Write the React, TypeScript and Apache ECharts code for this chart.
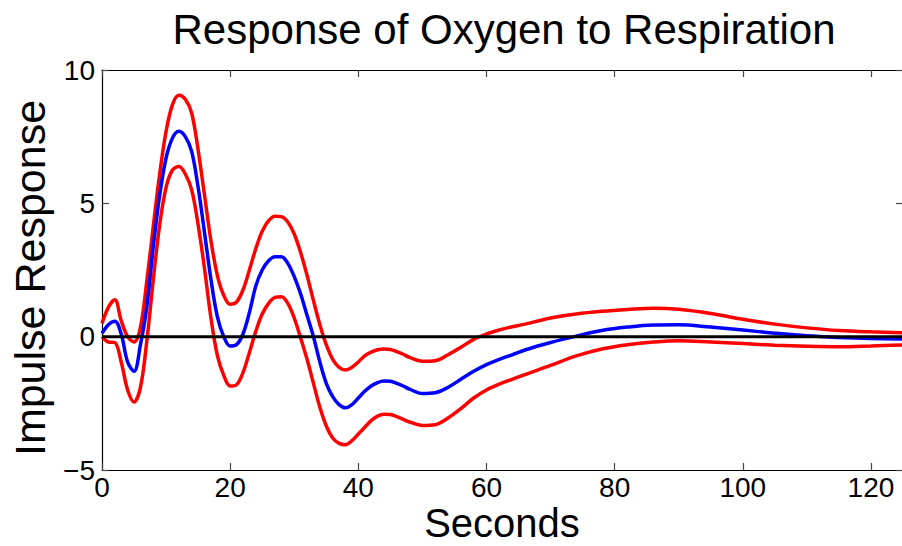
import React, { useEffect, useRef } from "react";
import * as echarts from "echarts";

const titleText = "Response of Oxygen to Respiration";
const xName = "Seconds";
const yName = "Impulse Response";

const seconds = [0,1,2,3,4,5,6,7,8,9,10,11,12,13,14,15,16,17,18,19,20,21,22,23,24,25,26,27,28,29,30,31,32,33,34,35,36,37,38,39,40,41,42,43,44,45,46,47,48,50,52,54,56,58,60,62,64,66,70,74,78,82,86,90,95,100,105,110,115,120,125];

const estimate = [0.12,0.45,0.58,0.1,-0.95,-1.3,-0.3,1.13,3.38,5.3,6.7,7.45,7.7,7.5,6.94,5.6,3.9,2.15,0.75,0.0,-0.35,-0.3,0.1,0.9,1.9,2.5,2.85,3.0,3.0,2.75,2.25,1.6,0.8,0.0,-0.95,-1.75,-2.25,-2.55,-2.67,-2.55,-2.3,-2.05,-1.85,-1.72,-1.66,-1.67,-1.75,-1.85,-1.97,-2.13,-2.1,-1.9,-1.6,-1.3,-1.05,-0.85,-0.68,-0.5,-0.22,0.02,0.23,0.36,0.44,0.45,0.36,0.25,0.13,0.03,-0.03,-0.07,-0.09];

const upper = [0.5,1.1,1.38,0.6,0.0,-0.2,0.35,2.1,4.13,6.1,7.7,8.7,9.05,8.9,8.38,7.0,5.3,3.6,2.3,1.55,1.22,1.3,1.75,2.5,3.3,3.95,4.35,4.52,4.5,4.3,3.85,3.15,2.3,1.35,0.45,-0.3,-0.85,-1.15,-1.25,-1.15,-0.95,-0.72,-0.58,-0.49,-0.46,-0.48,-0.56,-0.66,-0.78,-0.92,-0.9,-0.68,-0.4,-0.1,0.1,0.25,0.37,0.47,0.7,0.85,0.95,1.02,1.07,1.03,0.87,0.65,0.47,0.33,0.23,0.18,0.15];

const lower = [0.0,-0.2,-0.22,-0.95,-2.0,-2.45,-1.9,-0.15,2.13,4.2,5.6,6.25,6.38,6.1,5.5,4.2,2.55,0.7,-0.7,-1.45,-1.85,-1.8,-1.35,-0.6,0.2,0.85,1.25,1.47,1.5,1.25,0.7,-0.05,-0.85,-1.75,-2.65,-3.35,-3.8,-4.0,-4.05,-3.9,-3.65,-3.4,-3.15,-2.98,-2.91,-2.92,-3.0,-3.1,-3.2,-3.33,-3.3,-3.05,-2.7,-2.3,-2.0,-1.78,-1.6,-1.42,-1.08,-0.72,-0.46,-0.3,-0.2,-0.15,-0.2,-0.26,-0.32,-0.36,-0.38,-0.35,-0.31];

const zeroLine = [[0, 0], [125, 0]];

const FONT = "'Liberation Sans', Arial, Helvetica, sans-serif";

export default function App() {
  const ref = useRef<HTMLDivElement>(null);
  useEffect(() => {
    if (!ref.current) return;
    const chart = echarts.init(ref.current, undefined, { renderer: "svg", width: 902, height: 546 });
    const pair = (arr: number[]) => seconds.map((t, i) => [t, arr[i]]);
    const fmt = (v: number) => (v < 0 ? "\u2212" + Math.abs(v) : String(v));
    const axisLine = { show: true, onZero: false, lineStyle: { color: "#000", width: 1.2 } };
    const tick = { show: true, inside: true, length: 7, lineStyle: { color: "#444", width: 1.2 } };
    chart.setOption({
      animation: false,
      backgroundColor: "#fff",
      title: {
        text: titleText,
        left: 499,
        textAlign: "center",
        top: 3,
        textStyle: { fontFamily: FONT, fontSize: 42, fontWeight: "normal", color: "#000" },
      },
      grid: { left: 102, top: 70, right: -1, bottom: 76, containLabel: false, outerBoundsMode: "none" },
      xAxis: [
        {
          type: "value", min: 0, max: 125, interval: 20, position: "bottom",
          axisLine, axisTick: tick, splitLine: { show: false },
          axisLabel: { fontFamily: FONT, fontSize: 28, lineHeight: 24, color: "#000", margin: 5, showMaxLabel: false, formatter: fmt },
        },
        {
          type: "value", min: 0, max: 125, interval: 20, position: "top",
          axisLine, axisTick: tick, splitLine: { show: false }, axisLabel: { show: false },
        },
      ],
      yAxis: [
        {
          type: "value", min: -5, max: 10, interval: 5, position: "left",
          axisLine, axisTick: tick, splitLine: { show: false },
          axisLabel: { fontFamily: FONT, fontSize: 28, color: "#000", margin: 7, formatter: fmt },
        },
        {
          type: "value", min: -5, max: 10, interval: 5, position: "right",
          axisLine, axisTick: tick, splitLine: { show: false }, axisLabel: { show: false },
        },
      ],
      graphic: [
        {
          type: "text",
          x: 30,
          y: 278,
          rotation: Math.PI / 2,
          style: { text: yName, font: `43px ${FONT}`, fill: "#000", textAlign: "center", textVerticalAlign: "middle" },
        },
        {
          type: "text",
          x: 502,
          y: 523,
          style: { text: xName, font: `40px ${FONT}`, fill: "#000", textAlign: "center", textVerticalAlign: "middle" },
        },
      ],
      series: [
        { type: "line", name: "Upper", data: pair(upper), smooth: 0.35, showSymbol: false, lineStyle: { color: "#ff0000", width: 3.5 }, itemStyle: { color: "#ff0000" } },
        { type: "line", name: "Lower", data: pair(lower), smooth: 0.35, showSymbol: false, lineStyle: { color: "#ff0000", width: 3.5 }, itemStyle: { color: "#ff0000" } },
        { type: "line", name: "Estimate", data: pair(estimate), smooth: 0.35, showSymbol: false, lineStyle: { color: "#0000ff", width: 3.5 }, itemStyle: { color: "#0000ff" } },
        { type: "line", name: "Zero", data: zeroLine, showSymbol: false, lineStyle: { color: "#000", width: 3 }, itemStyle: { color: "#000" } },
      ],
    });
    return () => chart.dispose();
  }, []);
  return (
    <div
      ref={ref}
      style={{ position: "absolute", left: 0, top: 0, width: 902, height: 546, background: "#fff" }}
    />
  );
}
